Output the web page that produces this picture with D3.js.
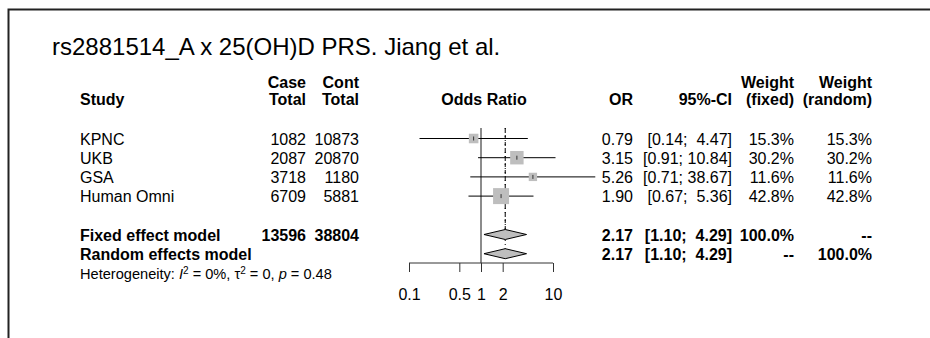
<!DOCTYPE html>
<html>
<head>
<meta charset="utf-8">
<script src="https://cdn.jsdelivr.net/npm/d3@7"></script>
<style>
  body { margin: 0; background: #fff; }
  svg text { font-family: "Liberation Sans", Arial, Helvetica, sans-serif; fill: #000; white-space: pre; }
  .bold { font-weight: bold; }
</style>
</head>
<body>
<div id="forest_area"></div>
<script>
// Study data
var studies = ["KPNC", "UKB", "GSA", "Human Omni"];
var caseTotal = [1082, 2087, 3718, 6709];
var contTotal = [10873, 20870, 1180, 5881];
var oddsRatio = [0.79, 3.15, 5.26, 1.90];
var ciLower = [0.14, 0.91, 0.71, 0.67];
var ciUpper = [4.47, 10.84, 38.67, 5.36];
var weightFixed = [15.3, 30.2, 11.6, 42.8];
var weightRandom = [15.3, 30.2, 11.6, 42.8];

// Pooled estimates
var modelNames = ["Fixed effect model", "Random effects model"];
var modelOR = [2.17, 2.17];
var modelLower = [1.10, 1.10];
var modelUpper = [4.29, 4.29];
var modelCase = [13596, null];
var modelCont = [38804, null];
var modelWFixed = ["100.0%", "--"];
var modelWRandom = ["--", "100.0%"];

var axisTicks = [0.1, 0.5, 1, 2, 10];
var title = "rs2881514_A x 25(OH)D PRS. Jiang et al.";

var width = 930, height = 338;

var svg = d3.select("#forest_area").append("svg")
    .attr("width", width)
    .attr("height", height);

// frame (only top and left edges fall inside the picture)
svg.append("path")
    .attr("d", "M8.5," + height + "V9.5H" + width)
    .attr("fill", "none")
    .attr("stroke", "#222")
    .attr("stroke-width", 2);

svg.append("text")
    .attr("x", 52)
    .attr("y", 55)
    .style("font-size", "24px")
    .text(title);

// Scales
var x = d3.scaleLog().domain([0.1, 10]).range([409, 553]);
var y = d3.scaleLinear().domain([0, 6]).range([138.5, 253.7]);
var side = d3.scaleSqrt().domain([0, d3.max(weightFixed)]).range([0, 16]);
var f2 = d3.format(".2f");

function ciText(lo, hi) {
  var h = f2(hi);
  if (h.length < 5) h = " " + h;
  return "[" + f2(lo) + "; " + h + "]";
}

// Column headers
var cols = {study: 80, cs: 306, ct: 359, or: 633, ci: 732, wf: 794, wr: 872};
var hdr = svg.append("g").attr("class", "bold").style("font-size", "16px");
function addText(g, xx, yy, anchor, txt) {
  return g.append("text").attr("x", xx).attr("y", yy)
    .attr("text-anchor", anchor).text(txt);
}
addText(hdr, cols.study, 105, "start", "Study");
addText(hdr, cols.cs, 88, "end", "Case");
addText(hdr, cols.cs, 105, "end", "Total");
addText(hdr, cols.ct, 88, "end", "Cont");
addText(hdr, cols.ct, 105, "end", "Total");
addText(hdr, 484, 105, "middle", "Odds Ratio");
addText(hdr, cols.or, 105, "end", "OR");
addText(hdr, cols.ci, 105, "end", "95%-CI");
addText(hdr, cols.wf, 88, "end", "Weight");
addText(hdr, cols.wf, 105, "end", "(fixed)");
addText(hdr, cols.wr, 88, "end", "Weight");
addText(hdr, cols.wr, 105, "end", "(random)");

// Study rows text
var rows = svg.append("g").style("font-size", "16px");
studies.forEach(function(s, i) {
  var yy = y(i) + 6;
  addText(rows, cols.study, yy, "start", s);
  addText(rows, cols.cs, yy, "end", caseTotal[i]);
  addText(rows, cols.ct, yy, "end", contTotal[i]);
  addText(rows, cols.or, yy, "end", f2(oddsRatio[i]));
  addText(rows, cols.ci, yy, "end", ciText(ciLower[i], ciUpper[i]));
  addText(rows, cols.wf, yy, "end", weightFixed[i].toFixed(1) + "%");
  addText(rows, cols.wr, yy, "end", weightRandom[i].toFixed(1) + "%");
});

// Model rows text
var mrows = svg.append("g").attr("class", "bold").style("font-size", "16px");
modelNames.forEach(function(m, j) {
  var yy = y(5 + j) + 6;
  addText(mrows, cols.study, yy, "start", m);
  if (modelCase[j] != null) addText(mrows, cols.cs, yy, "end", modelCase[j]);
  if (modelCont[j] != null) addText(mrows, cols.ct, yy, "end", modelCont[j]);
  addText(mrows, cols.or, yy, "end", f2(modelOR[j]));
  addText(mrows, cols.ci, yy, "end", ciText(modelLower[j], modelUpper[j]));
  addText(mrows, cols.wf, yy, "end", modelWFixed[j]);
  addText(mrows, cols.wr, yy, "end", modelWRandom[j]);
});

// Heterogeneity line
var het = svg.append("text").attr("x", cols.study).attr("y", 279).style("font-size", "14.6px");
het.append("tspan").text("Heterogeneity: ");
het.append("tspan").style("font-style", "italic").text("I");
het.append("tspan").attr("dy", -5).style("font-size", "10px").text("2");
het.append("tspan").attr("dy", 5).text(" = 0%, \u03c4");
het.append("tspan").attr("dy", -5).style("font-size", "10px").text("2");
het.append("tspan").attr("dy", 5).text(" = 0, ");
het.append("tspan").style("font-style", "italic").text("p");
het.append("tspan").text(" = 0.48");

// Reference line at OR = 1
var plotTop = 128, axisY = 263;
svg.append("line")
    .attr("x1", x(1)).attr("x2", x(1))
    .attr("y1", plotTop).attr("y2", axisY)
    .attr("stroke", "#666").attr("stroke-width", 1.5);

// Pooled estimate lines (fixed dashed, random dotted)
svg.append("line")
    .attr("x1", x(modelOR[0])).attr("x2", x(modelOR[0]))
    .attr("y1", plotTop).attr("y2", y(5))
    .attr("stroke", "#000").attr("stroke-dasharray", "4,3");
svg.append("line")
    .attr("x1", x(modelOR[1])).attr("x2", x(modelOR[1]))
    .attr("y1", plotTop).attr("y2", y(6))
    .attr("stroke", "#000").attr("stroke-dasharray", "1,3");

// CI lines
svg.selectAll(".ci")
    .data(studies)
    .enter().append("line")
    .attr("class", "ci")
    .attr("x1", function(d, i) { return x(ciLower[i]); })
    .attr("x2", function(d, i) { return x(ciUpper[i]); })
    .attr("y1", function(d, i) { return y(i); })
    .attr("y2", function(d, i) { return y(i); })
    .attr("stroke", "#000").attr("stroke-width", 1);

// Squares
svg.selectAll(".sq")
    .data(studies)
    .enter().append("rect")
    .attr("class", "sq")
    .attr("x", function(d, i) { return x(oddsRatio[i]) - side(weightFixed[i]) / 2; })
    .attr("y", function(d, i) { return y(i) - side(weightFixed[i]) / 2; })
    .attr("width", function(d, i) { return side(weightFixed[i]); })
    .attr("height", function(d, i) { return side(weightFixed[i]); })
    .attr("fill", "#bebebe");

// Point marks
svg.selectAll(".pt")
    .data(studies)
    .enter().append("line")
    .attr("class", "pt")
    .attr("x1", function(d, i) { return x(oddsRatio[i]); })
    .attr("x2", function(d, i) { return x(oddsRatio[i]); })
    .attr("y1", function(d, i) { return y(i) - 2; })
    .attr("y2", function(d, i) { return y(i) + 2; })
    .attr("stroke", "#333").attr("stroke-width", 1);

// Diamonds
svg.selectAll(".dia")
    .data(modelNames)
    .enter().append("path")
    .attr("class", "dia")
    .attr("d", function(d, j) {
      var cy = y(5 + j);
      return "M" + x(modelLower[j]) + "," + cy +
             "L" + x(modelOR[j]) + "," + (cy - 5) +
             "L" + x(modelUpper[j]) + "," + cy +
             "L" + x(modelOR[j]) + "," + (cy + 5) + "Z";
    })
    .attr("fill", "#bebebe")
    .attr("stroke", "#000").attr("stroke-width", 1);

// X axis
var axis = svg.append("g")
    .attr("transform", "translate(0," + axisY + ")")
    .call(d3.axisBottom(x).tickValues(axisTicks).tickSize(9).tickPadding(17)
      .tickFormat(function(d) { return d; }));
axis.select(".domain").attr("d", "M" + x(0.1) + ",0H" + x(10)).attr("stroke", "#333");
axis.selectAll(".tick line").attr("stroke", "#333");
axis.selectAll(".tick text")
    .style("font-size", "16px")
    .style("font-family", "'Liberation Sans', Arial, sans-serif")
    .attr("fill", "#000");
</script>
</body>
</html>
